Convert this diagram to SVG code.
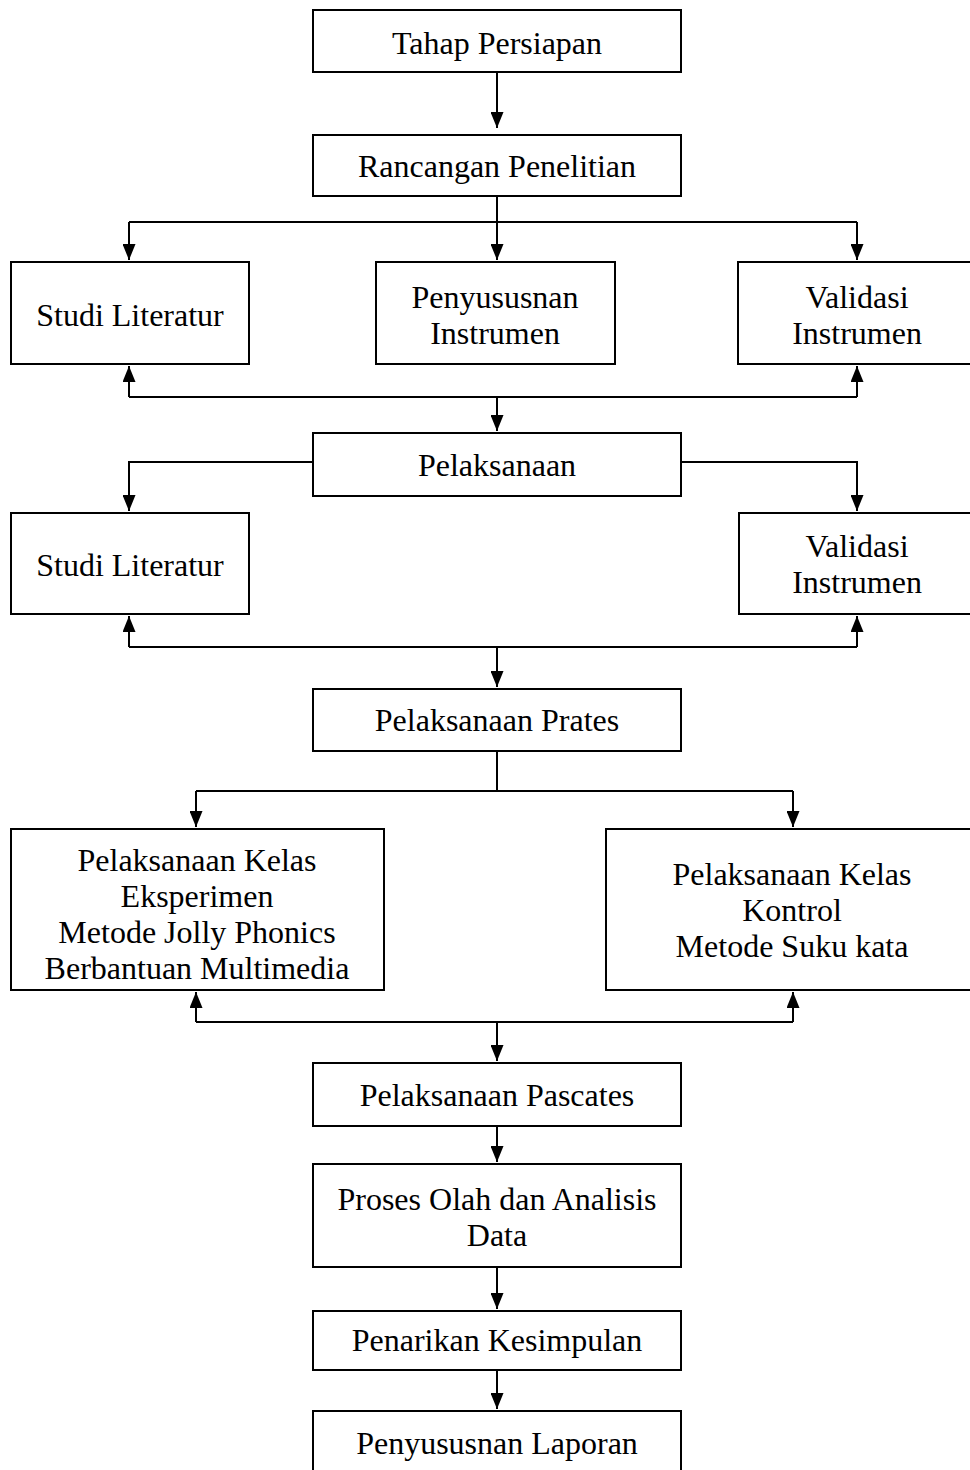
<svg xmlns="http://www.w3.org/2000/svg" width="970" height="1470" viewBox="0 0 970 1470">
<style>
.box{fill:#fff;stroke:#000;stroke-width:2}
.t{font-family:"Liberation Serif","Times New Roman",serif;font-size:32px;fill:#000;text-anchor:middle}
.c{fill:none;stroke:#000;stroke-width:2}
</style>
<defs>
<marker id="ah" markerUnits="userSpaceOnUse" markerWidth="16" markerHeight="13" refX="16" refY="6.5" orient="auto" viewBox="0 0 16 13">
<path d="M0,0 L16,6.5 L0,13 Z" fill="#000"/>
</marker>
</defs>
<rect width="970" height="1470" fill="#fff"/>
<g id="connectors">
<path class="c" d="M497,72 V128" marker-end="url(#ah)"/>
<path class="c" d="M497,196 V260" marker-end="url(#ah)"/>
<path class="c" d="M129,222 H857"/>
<path class="c" d="M129,222 V260" marker-end="url(#ah)"/>
<path class="c" d="M857,222 V260" marker-end="url(#ah)"/>
<path class="c" d="M129,397 H857"/>
<path class="c" d="M129,397 V366" marker-end="url(#ah)"/>
<path class="c" d="M857,397 V366" marker-end="url(#ah)"/>
<path class="c" d="M497,397 V431" marker-end="url(#ah)"/>
<path class="c" d="M313,462 H129 V511" marker-end="url(#ah)"/>
<path class="c" d="M681,462 H857 V511" marker-end="url(#ah)"/>
<path class="c" d="M129,647 H857"/>
<path class="c" d="M129,647 V616" marker-end="url(#ah)"/>
<path class="c" d="M857,647 V616" marker-end="url(#ah)"/>
<path class="c" d="M497,647 V687" marker-end="url(#ah)"/>
<path class="c" d="M497,751 V791"/>
<path class="c" d="M196,791 H793"/>
<path class="c" d="M196,791 V827" marker-end="url(#ah)"/>
<path class="c" d="M793,791 V827" marker-end="url(#ah)"/>
<path class="c" d="M196,1022 H793"/>
<path class="c" d="M196,1022 V992" marker-end="url(#ah)"/>
<path class="c" d="M793,1022 V992" marker-end="url(#ah)"/>
<path class="c" d="M497,1022 V1061" marker-end="url(#ah)"/>
<path class="c" d="M497,1126 V1162" marker-end="url(#ah)"/>
<path class="c" d="M497,1267 V1309" marker-end="url(#ah)"/>
<path class="c" d="M497,1370 V1409" marker-end="url(#ah)"/>
</g>
<g id="n1"><rect class="box" x="313" y="10" width="368" height="62"/><text class="t" x="497" y="54">Tahap Persiapan</text></g>
<g id="n2"><rect class="box" x="313" y="135" width="368" height="61"/><text class="t" x="497" y="177">Rancangan Penelitian</text></g>
<g id="n3"><rect class="box" x="11" y="262" width="238" height="102"/><text class="t" x="130" y="326">Studi Literatur</text></g>
<g id="n4"><rect class="box" x="376" y="262" width="239" height="102"/><text class="t" x="495" y="308">Penyususnan</text><text class="t" x="495" y="344">Instrumen</text></g>
<g id="n5"><rect class="box" x="738" y="262" width="240" height="102"/><text class="t" x="857" y="308">Validasi</text><text class="t" x="857" y="344">Instrumen</text></g>
<g id="n6"><rect class="box" x="313" y="433" width="368" height="63"/><text class="t" x="497" y="476">Pelaksanaan</text></g>
<g id="n7"><rect class="box" x="11" y="513" width="238" height="101"/><text class="t" x="130" y="576">Studi Literatur</text></g>
<g id="n8"><rect class="box" x="739" y="513" width="240" height="101"/><text class="t" x="857" y="557">Validasi</text><text class="t" x="857" y="593">Instrumen</text></g>
<g id="n9"><rect class="box" x="313" y="689" width="368" height="62"/><text class="t" x="497" y="731">Pelaksanaan Prates</text></g>
<g id="n10"><rect class="box" x="11" y="829" width="373" height="161"/><text class="t" x="197" y="871">Pelaksanaan Kelas</text><text class="t" x="197" y="907">Eksperimen</text><text class="t" x="197" y="943">Metode Jolly Phonics</text><text class="t" x="197" y="979">Berbantuan Multimedia</text></g>
<g id="n11"><rect class="box" x="606" y="829" width="370" height="161"/><text class="t" x="792" y="885">Pelaksanaan Kelas</text><text class="t" x="792" y="921">Kontrol</text><text class="t" x="792" y="957">Metode Suku kata</text></g>
<g id="n12"><rect class="box" x="313" y="1063" width="368" height="63"/><text class="t" x="497" y="1106">Pelaksanaan Pascates</text></g>
<g id="n13"><rect class="box" x="313" y="1164" width="368" height="103"/><text class="t" x="497" y="1210">Proses Olah dan Analisis</text><text class="t" x="497" y="1246">Data</text></g>
<g id="n14"><rect class="box" x="313" y="1311" width="368" height="59"/><text class="t" x="497" y="1351">Penarikan Kesimpulan</text></g>
<g id="n15"><rect class="box" x="313" y="1411" width="368" height="70"/><text class="t" x="497" y="1454">Penyususnan Laporan</text></g>
</svg>
